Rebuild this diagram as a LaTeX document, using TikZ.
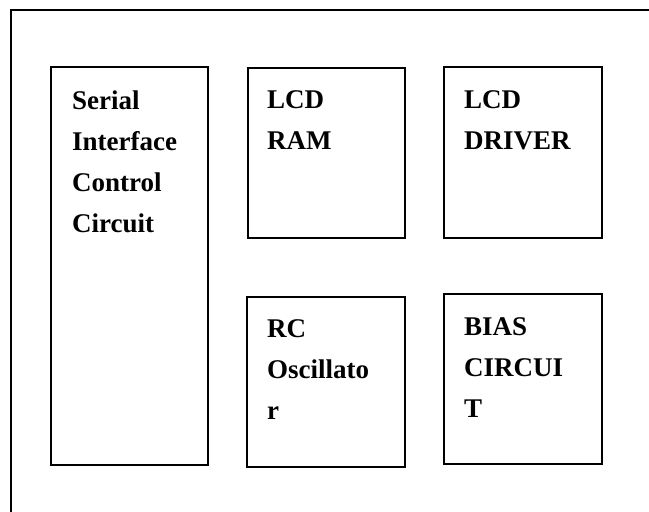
\documentclass[tikz,border=0pt]{standalone}
\usepackage{fontspec}
\setmainfont{Liberation Serif}
\tikzset{
  blockbox/.style={draw=black, line width=2pt, anchor=north west, inner sep=0pt},
  blocktext/.style={anchor=base west, inner sep=0pt, font=\fontsize{27}{41}\selectfont\bfseries},
  frameline/.style={draw=black, line width=2pt}
}
\begin{document}
\begin{tikzpicture}[x=1pt,y=-1pt]
\useasboundingbox (0,0) rectangle (649,512);
% outer frame (only top and left edges visible)
\coordinate (ftr) at (652,10);
\coordinate (ftl) at (11,10);
\coordinate (fbl) at (11,515);
\draw[frameline] (ftr) -- (ftl) -- (fbl);
% blocks
\node[blockbox, minimum width=157pt, minimum height=398pt] (ser) at (50,66) {};
\node[blockbox, minimum width=157pt, minimum height=170pt] (ram) at (247,67) {};
\node[blockbox, minimum width=158pt, minimum height=171pt] (drv) at (443,66) {};
\node[blockbox, minimum width=158pt, minimum height=170pt] (osc) at (246,296) {};
\node[blockbox, minimum width=158pt, minimum height=170pt] (bias) at (443,293) {};
% texts
\node[blocktext] (sert) at (72,109) {\begin{tabular}[t]{@{}l@{}}Serial\\Interface\\Control\\Circuit\end{tabular}};
\node[blocktext] (ramt) at (267,108) {\begin{tabular}[t]{@{}l@{}}LCD\\RAM\end{tabular}};
\node[blocktext] (drvt) at (464,108) {\begin{tabular}[t]{@{}l@{}}LCD\\DRIVER\end{tabular}};
\node[blocktext] (osct) at (267,337) {\begin{tabular}[t]{@{}l@{}}RC\\Oscillato\\r\end{tabular}};
\node[blocktext] (biast) at (464,335) {\begin{tabular}[t]{@{}l@{}}BIAS\\CIRCUI\\T\end{tabular}};
\end{tikzpicture}
\end{document}
